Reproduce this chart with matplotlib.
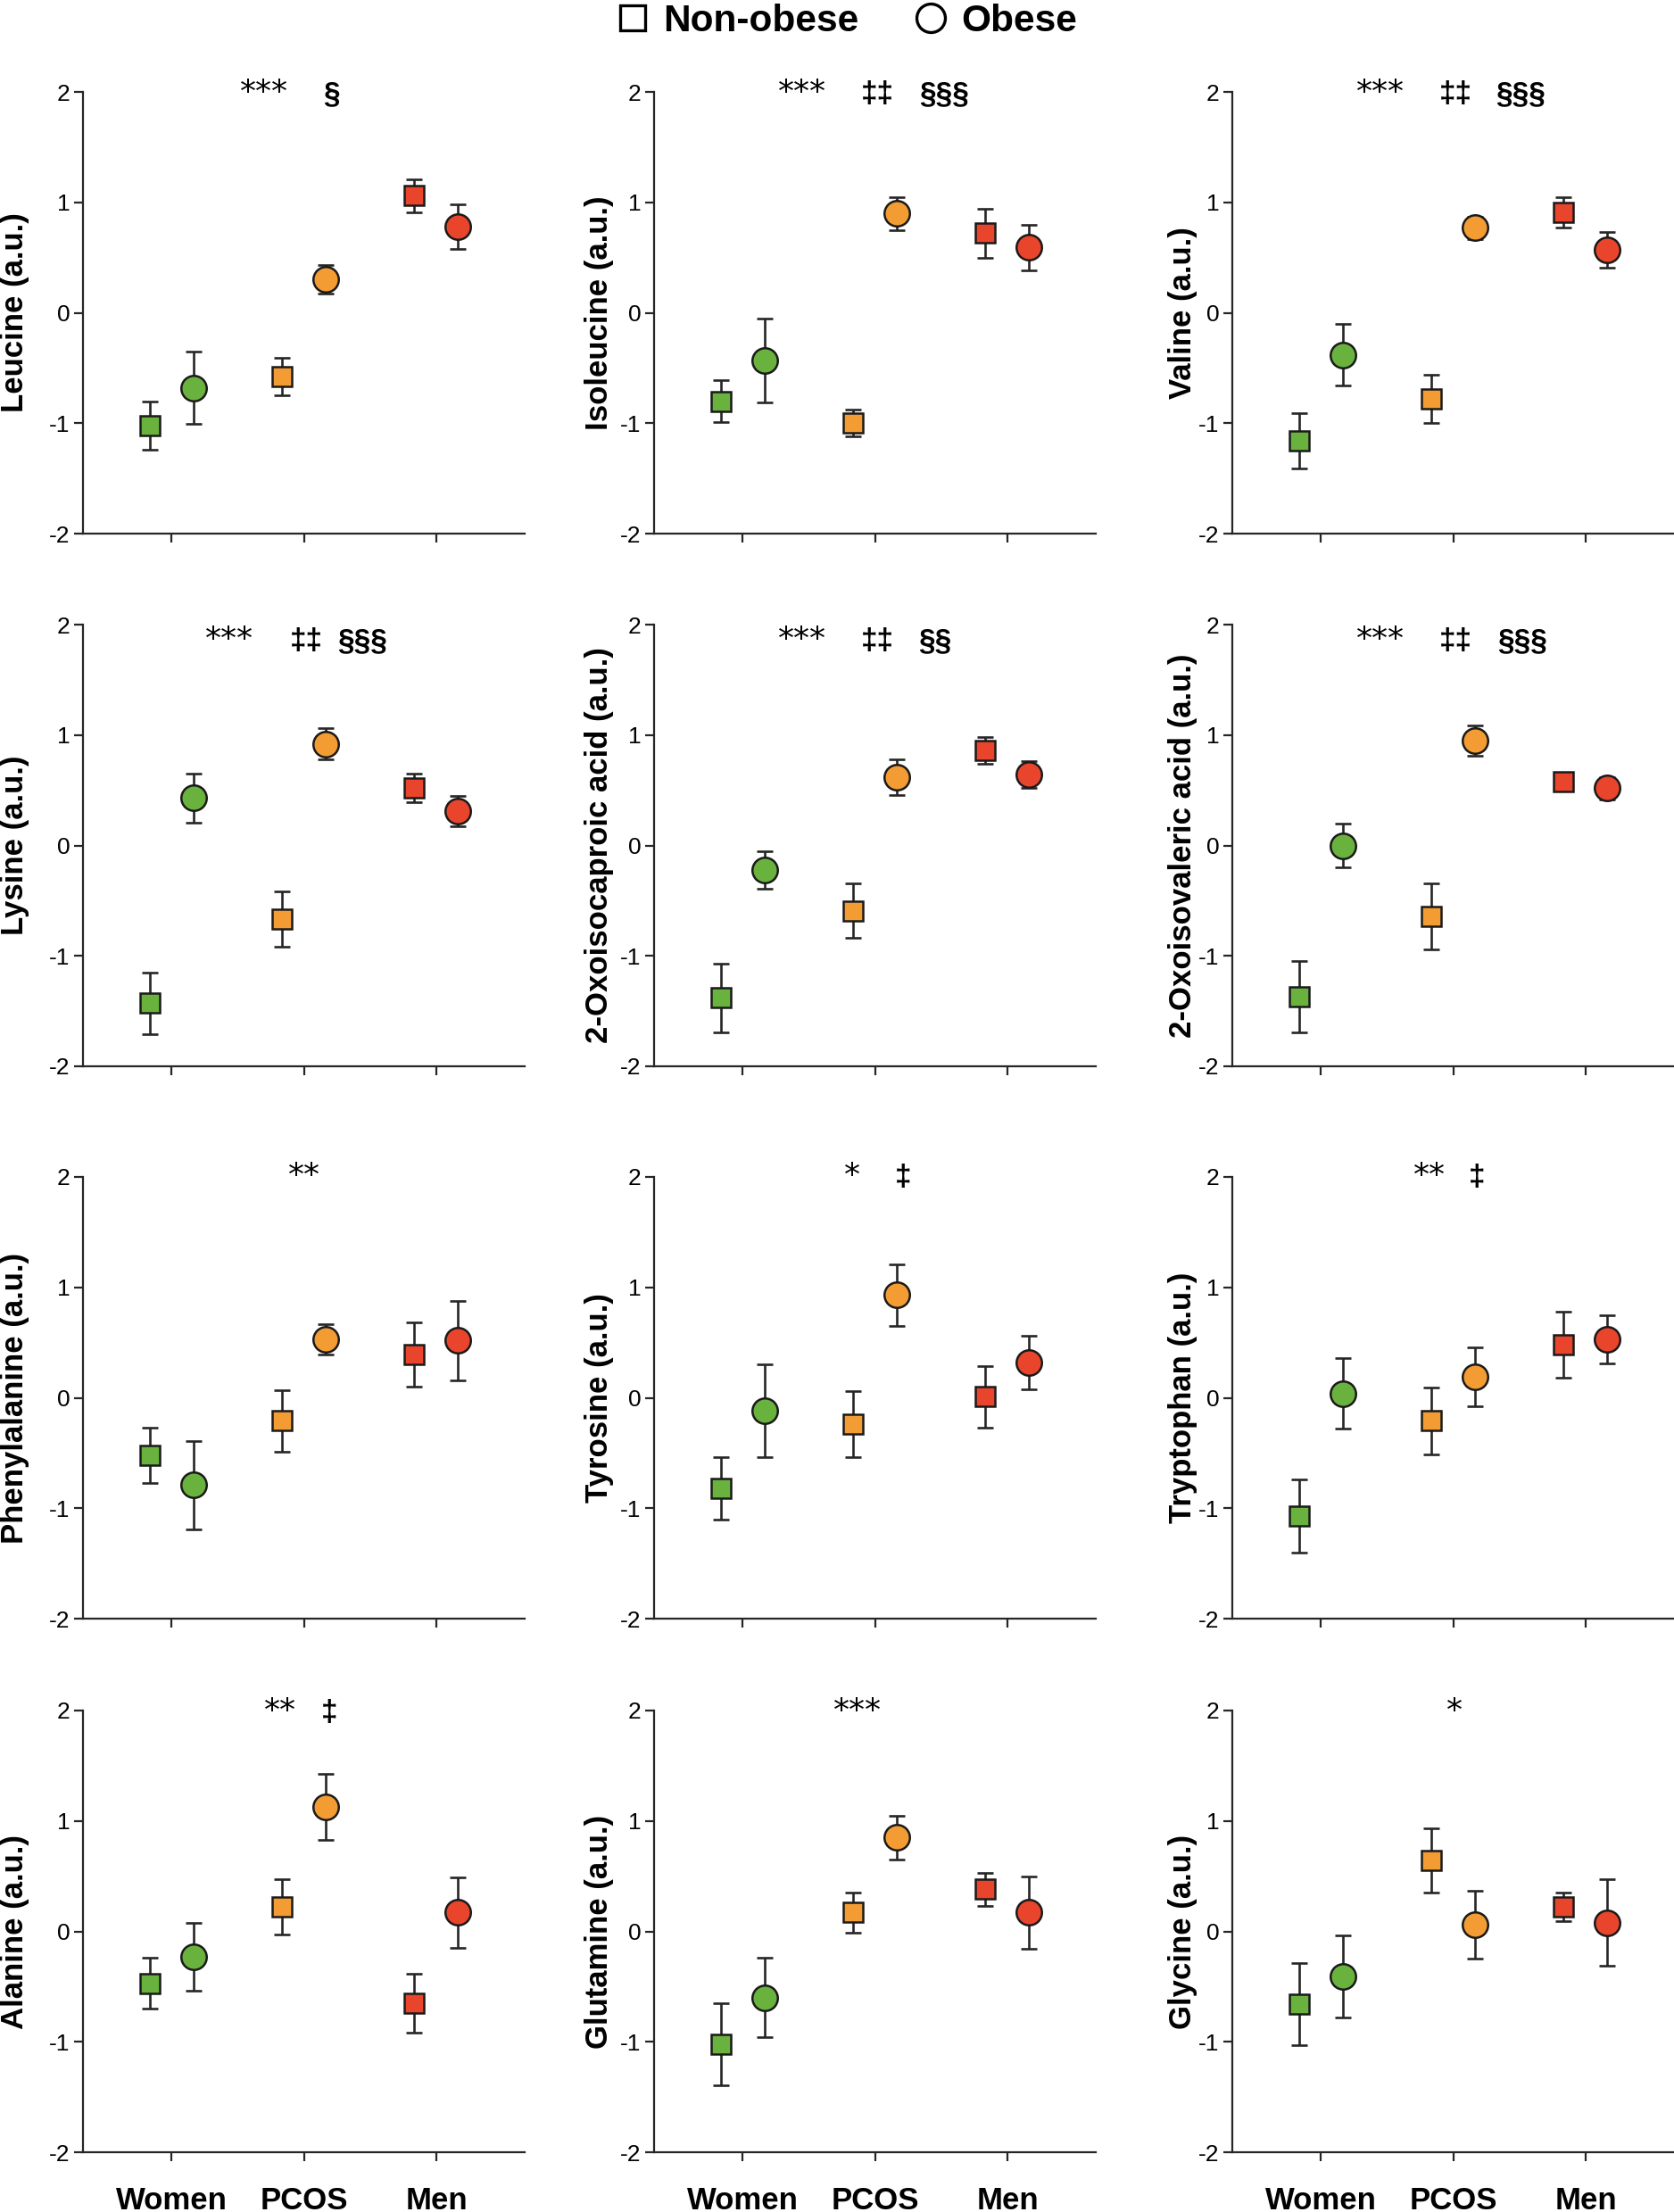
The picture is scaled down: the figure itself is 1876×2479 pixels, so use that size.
import matplotlib
matplotlib.use("Agg")
import matplotlib.pyplot as plt
from matplotlib.lines import Line2D

plt.rcParams['font.family'] = ['Liberation Sans', 'DejaVu Sans']
plt.rcParams['axes.unicode_minus'] = False

groups = ["Women", "PCOS", "Men"]
group_colors = ["#6AB23E", "#F39C33", "#E8452C"]

ylabels = [
    "Leucine (a.u.)", "Isoleucine (a.u.)", "Valine (a.u.)",
    "Lysine (a.u.)", "2-Oxoisocaproic acid (a.u.)", "2-Oxoisovaleric acid (a.u.)",
    "Phenylalanine (a.u.)", "Tyrosine (a.u.)", "Tryptophan (a.u.)",
    "Alanine (a.u.)", "Glutamine (a.u.)", "Glycine (a.u.)",
]

# non-obese (squares): mean and SEM for Women, PCOS, Men
nonobese_mean = [
    [-1.02, -0.58, 1.06], [-0.80, -1.00, 0.72], [-1.16, -0.78, 0.91],
    [-1.43, -0.67, 0.52], [-1.38, -0.59, 0.86], [-1.37, -0.64, 0.58],
    [-0.52, -0.21, 0.39], [-0.82, -0.24, 0.01], [-1.07, -0.21, 0.48],
    [-0.47, 0.22, -0.65], [-1.02, 0.17, 0.38], [-0.66, 0.64, 0.22],
]
nonobese_err = [
    [0.22, 0.17, 0.15], [0.19, 0.12, 0.22], [0.25, 0.22, 0.14],
    [0.28, 0.25, 0.13], [0.31, 0.25, 0.12], [0.32, 0.30, 0.05],
    [0.25, 0.28, 0.29], [0.28, 0.30, 0.28], [0.33, 0.30, 0.30],
    [0.23, 0.25, 0.27], [0.37, 0.18, 0.15], [0.37, 0.29, 0.13],
]
# obese (circles)
obese_mean = [
    [-0.68, 0.30, 0.78], [-0.43, 0.90, 0.59], [-0.38, 0.77, 0.57],
    [0.43, 0.92, 0.31], [-0.22, 0.62, 0.64], [0.00, 0.95, 0.52],
    [-0.79, 0.53, 0.52], [-0.12, 0.93, 0.32], [0.04, 0.19, 0.53],
    [-0.23, 1.13, 0.17], [-0.60, 0.85, 0.17], [-0.41, 0.06, 0.08],
]
obese_err = [
    [0.33, 0.13, 0.20], [0.38, 0.15, 0.21], [0.28, 0.10, 0.16],
    [0.22, 0.14, 0.14], [0.17, 0.16, 0.12], [0.20, 0.135, 0.10],
    [0.40, 0.14, 0.36], [0.42, 0.28, 0.24], [0.32, 0.27, 0.22],
    [0.31, 0.30, 0.32], [0.36, 0.20, 0.33], [0.37, 0.31, 0.39],
]

# significance marks: (text, x position) per panel, plus baseline y
marks = [
    [("***", 0.70), ("§", 1.21)],
    [("***", 0.45), ("‡‡", 1.02), ("§§§", 1.52)],
    [("***", 0.45), ("‡‡", 1.02), ("§§§", 1.51)],
    [("***", 0.44), ("‡‡", 1.02), ("§§§", 1.44)],
    [("***", 0.45), ("‡‡", 1.02), ("§§", 1.45)],
    [("***", 0.45), ("‡‡", 1.02), ("§§§", 1.52)],
    [("**", 1.00)],
    [("*", 0.83), ("‡", 1.21)],
    [("**", 0.82), ("‡", 1.18)],
    [("**", 0.82), ("‡", 1.19)],
    [("***", 0.87)],
    [("*", 1.01)],
]
mark_base = [1.91, 1.91, 1.91, 1.78, 1.78, 1.78, 1.93, 1.93, 1.93, 1.91, 1.91, 1.91]

W, H = 1876, 2479
col_left = [93, 733, 1381]
row_top = [103, 700, 1319, 1917]
ax_size = 495
label_x = [-0.155, -0.125, -0.113]
offset = 0.165
line_col = "#262626"

fig = plt.figure(figsize=(W / 100, H / 100), dpi=100)

for i in range(12):
    r, c = divmod(i, 3)
    ax = fig.add_axes([col_left[c] / W, 1 - (row_top[r] + ax_size) / H,
                       ax_size / W, ax_size / H])
    for g in range(3):
        for x, m, e, mk, ms in [(g - offset, nonobese_mean[i][g], nonobese_err[i][g], 's', 16),
                                (g + offset, obese_mean[i][g], obese_err[i][g], 'o', 20.5)]:
            ax.errorbar([x], [m], yerr=[e], fmt='none', ecolor=line_col,
                        elinewidth=1.9, capsize=6.5, capthick=1.9, zorder=2)
            ax.plot([x], [m], marker=mk, markersize=ms, markerfacecolor=group_colors[g],
                    markeredgecolor="#1a1a1a", markeredgewidth=1.8, linestyle='none', zorder=3)

    ax.set_xlim(-0.667, 2.667)
    ax.set_ylim(-2, 2)
    ax.set_yticks([-2, -1, 0, 1, 2])
    ax.set_yticklabels(["-2", "-1", "0", "1", "2"])
    ax.set_xticks([0, 1, 2])
    if r == 3:
        ax.set_xticklabels(groups, fontsize=25, fontweight='bold')
    else:
        ax.set_xticklabels([])
    ax.tick_params(axis='y', labelsize=19, length=7.2, width=1.6, pad=3.5, colors=line_col,
                   labelcolor='black')
    ax.tick_params(axis='x', length=7.2, width=1.6, pad=20, colors=line_col, labelcolor='black')
    for s in ['top', 'right']:
        ax.spines[s].set_visible(False)
    for s in ['left', 'bottom']:
        ax.spines[s].set_linewidth(1.6)
        ax.spines[s].set_color(line_col)

    ax.text(label_x[c], 0.5, ylabels[i], transform=ax.transAxes, rotation=90,
            ha='center', va='center', fontsize=25, fontweight='bold')

    for txt, xm in marks[i]:
        if '*' in txt:
            ax.text(xm, mark_base[i], txt, ha='center', va='baseline', fontsize=26,
                    family='DejaVu Sans')
        else:
            ax.text(xm, mark_base[i], txt, ha='center', va='baseline', fontsize=24,
                    fontweight='bold')

handles = [
    Line2D([], [], marker='s', markersize=20, markerfacecolor='white',
           markeredgecolor='black', markeredgewidth=2.4, linestyle='none'),
    Line2D([], [], marker='o', markersize=23, markerfacecolor='white',
           markeredgecolor='black', markeredgewidth=2.4, linestyle='none'),
]
fig.legend(handles, ["Non-obese", "Obese"], loc='center', bbox_to_anchor=(0.505, 0.9905),
           ncol=2, frameon=False, prop={'size': 30.5, 'weight': 'bold'},
           handlelength=1.0, handletextpad=0.3, columnspacing=1.4, borderpad=0)

fig.savefig("out.png", dpi=100)
